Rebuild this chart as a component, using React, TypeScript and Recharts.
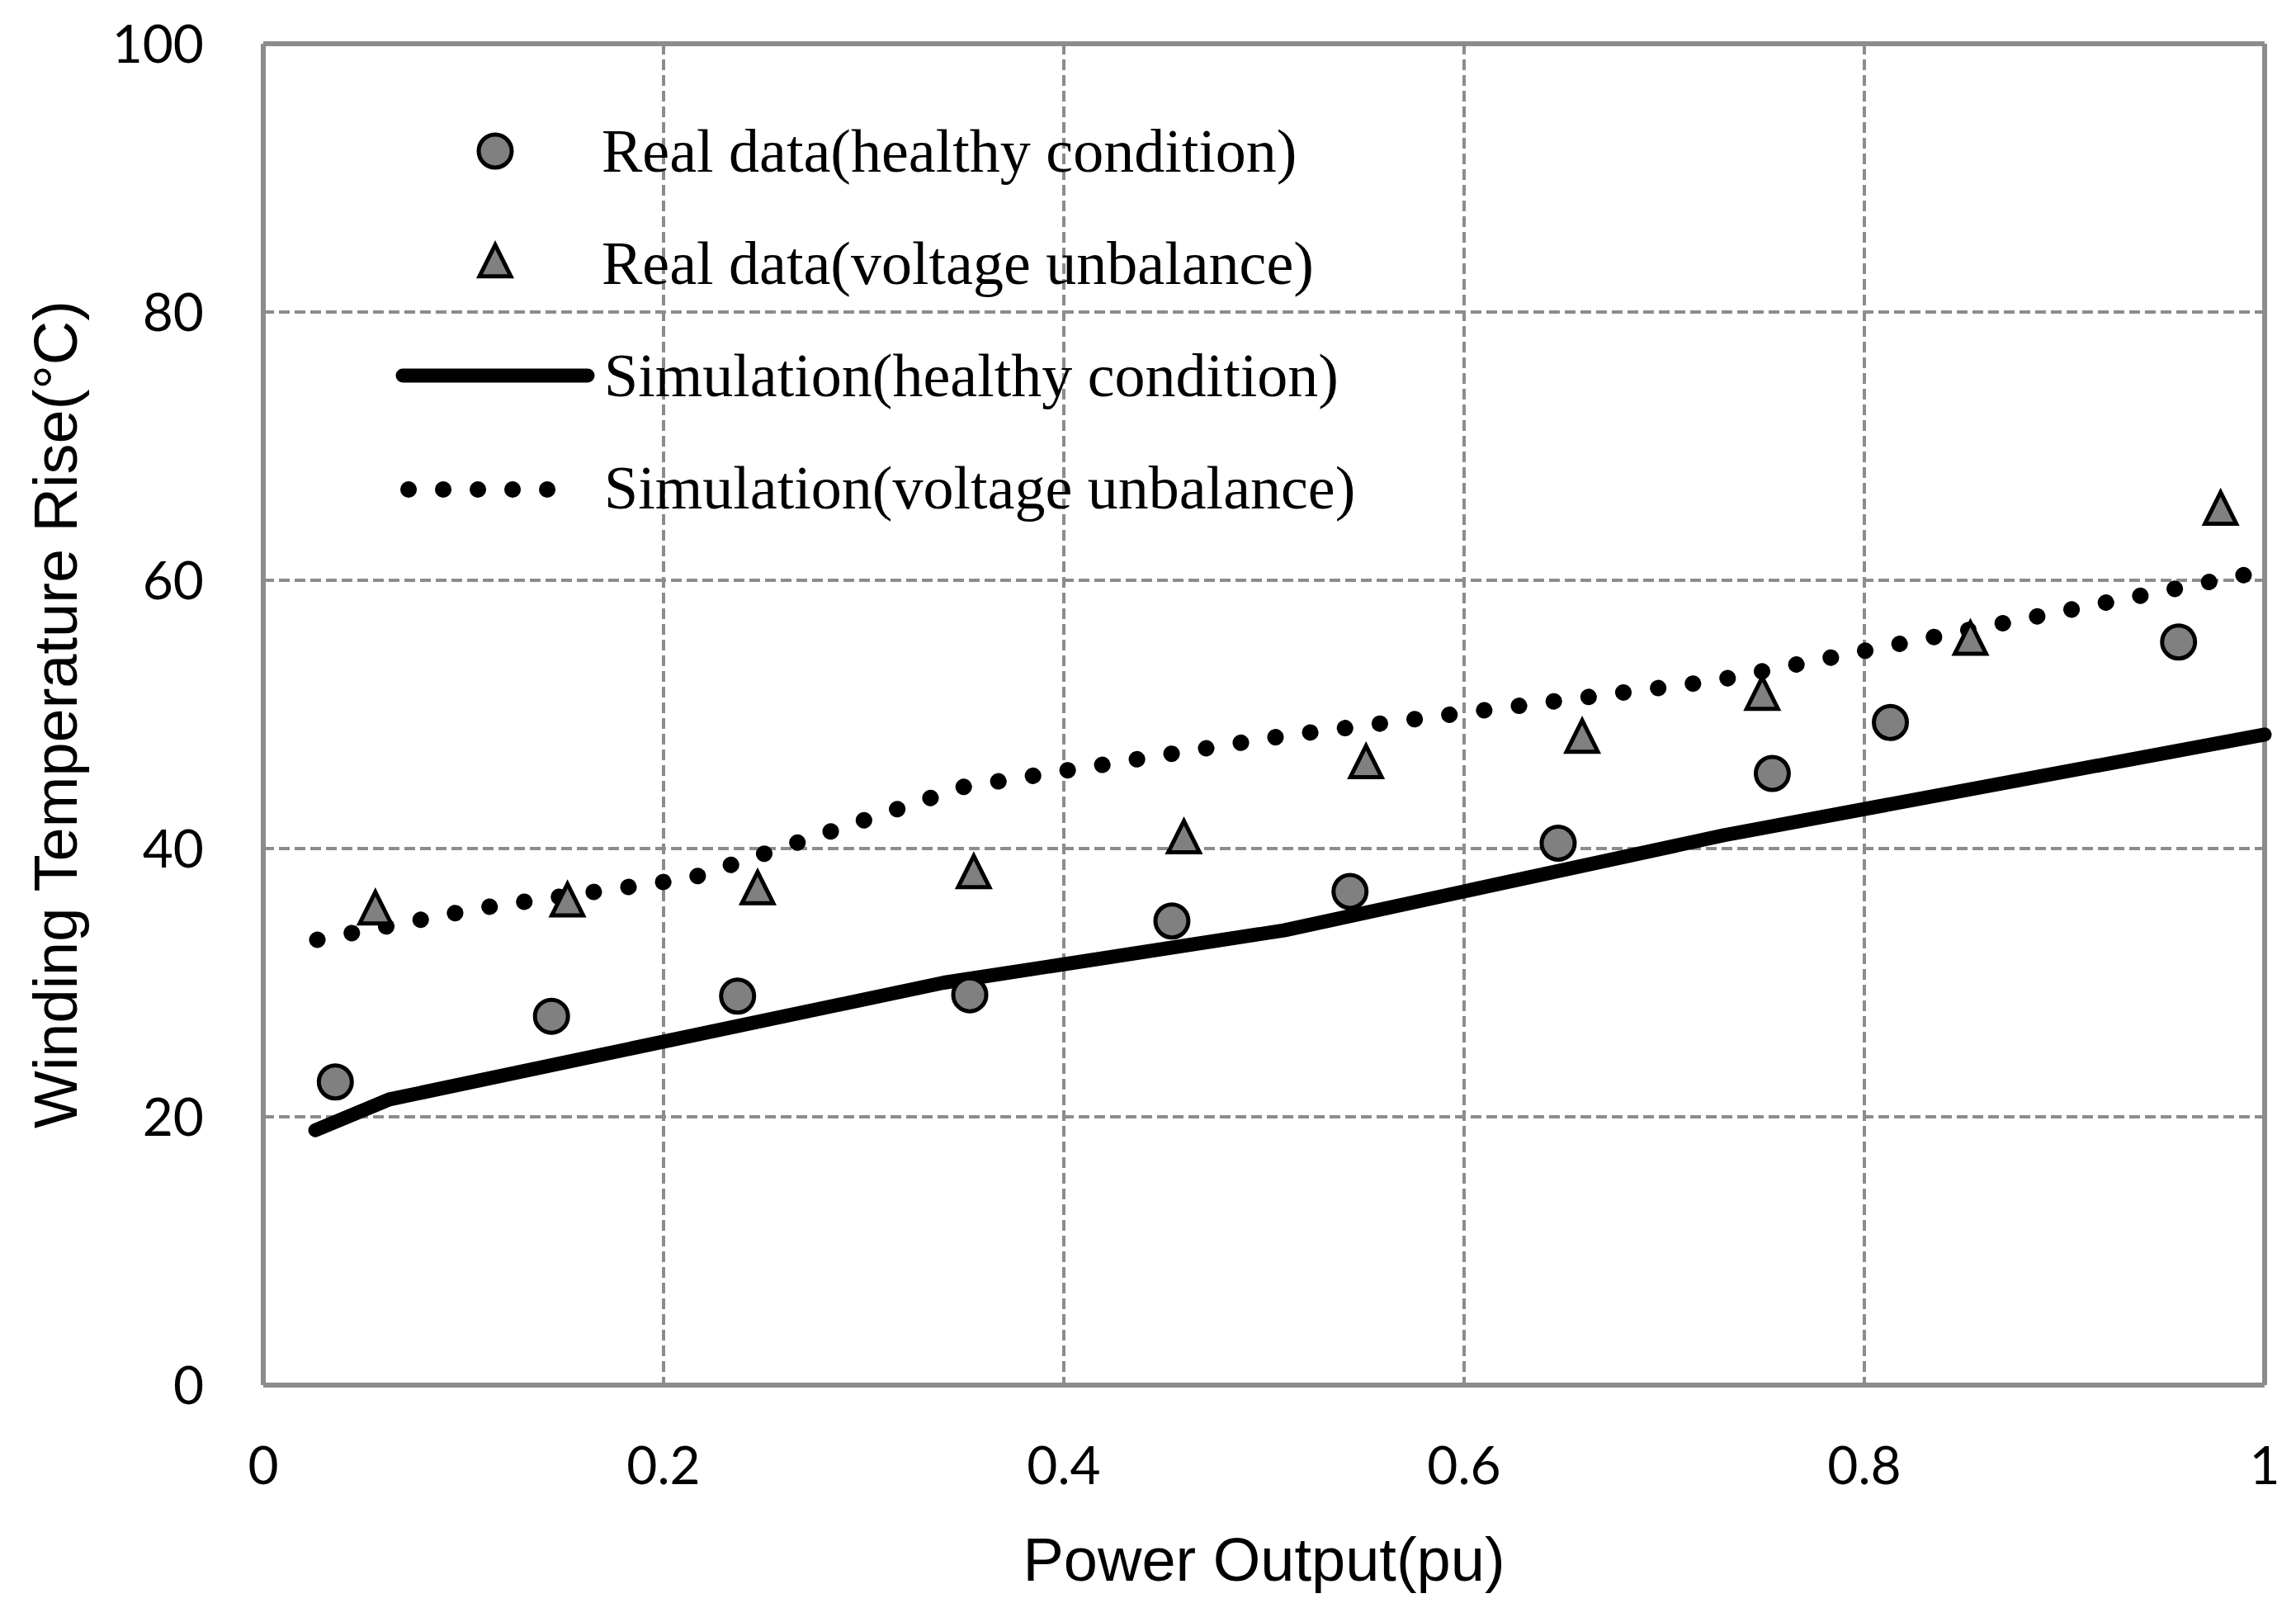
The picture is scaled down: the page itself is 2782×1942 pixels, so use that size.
import React from "react";
import {
  ComposedChart,
  Line,
  Scatter,
  XAxis,
  YAxis,
  CartesianGrid,
  ReferenceLine,
  Legend,
} from "recharts";

// axis ticks
const xTicks = [0, 0.2, 0.4, 0.6, 0.8, 1];
const yTicks = [0, 20, 40, 60, 80, 100];

// series names
const seriesNames = [
  "Real data(healthy condition)",
  "Real data(voltage unbalance)",
  "Simulation(healthy condition)",
  "Simulation(voltage unbalance)",
];

// measured points
const realHealthyX = [0.036, 0.144, 0.237, 0.353, 0.454, 0.543, 0.647, 0.754, 0.813, 0.957];
const realHealthyY = [22.6, 27.5, 29.0, 29.1, 34.6, 36.8, 40.4, 45.6, 49.4, 55.4];
const realUnbalX = [0.056, 0.152, 0.247, 0.355, 0.46, 0.551, 0.659, 0.749, 0.853, 0.978];
const realUnbalY = [35.2, 35.8, 36.7, 37.9, 40.5, 46.1, 48.0, 51.2, 55.3, 65.0];

// simulation curves
const simHealthyX = [0.026, 0.063, 0.34, 0.51, 0.73, 1.0];
const simHealthyY = [19.0, 21.3, 30.0, 33.9, 41.0, 48.5];
const simUnbalX = [0.027, 0.11, 0.214, 0.35, 0.51, 0.725, 1.0];
const simUnbalY = [33.2, 35.6, 37.8, 44.6, 48.4, 52.5, 60.7];

const zip = (xs: number[], ys: number[]) => xs.map((x, i) => ({ x, y: ys[i] }));

const realHealthy = zip(realHealthyX, realHealthyY);
const realUnbal = zip(realUnbalX, realUnbalY);
const simHealthy = zip(simHealthyX, simHealthyY);
const simUnbal = zip(simUnbalX, simUnbalY);

const GRAY = "#8c8c8c";
const FILL = "#808080";
const TICK_FONT = "Lato, 'Open Sans', sans-serif";
const TITLE_FONT = "'Liberation Sans', Arial, sans-serif";
const LEGEND_FONT = "'Liberation Serif', 'Times New Roman', serif";

const CircleMark = (props: any) => (
  <circle cx={props.cx} cy={props.cy} r={20} fill={FILL} stroke="#000" strokeWidth={5} />
);

const triPoints = (cx: number, cy: number) => {
  const h = 38;
  const w = 38;
  return `${cx},${cy - (2 * h) / 3} ${cx - w / 2},${cy + h / 3} ${cx + w / 2},${cy + h / 3}`;
};

const TriangleMark = (props: any) => (
  <polygon points={triPoints(props.cx, props.cy)} fill={FILL} stroke="#000" strokeWidth={5} />
);

const XTick = (props: any) => (
  <text x={props.x} y={props.y + 120} textAnchor="middle" fontFamily={TICK_FONT} fontSize={64} fill="#000">
    {props.payload.value}
  </text>
);

const YTick = (props: any) => (
  <text x={props.x - 72} y={props.y + 23} textAnchor="end" fontFamily={TICK_FONT} fontSize={64} fill="#000">
    {props.payload.value}
  </text>
);

const XTitle = (props: any) => {
  const vb = props.viewBox;
  return (
    <text x={vb.x + vb.width / 2} y={1915} textAnchor="middle" fontFamily={TITLE_FONT} fontSize={74} fill="#000">
      Power Output(pu)
    </text>
  );
};

const YTitle = (props: any) => {
  const vb = props.viewBox;
  const cy = vb.y + vb.height / 2;
  return (
    <text
      x={93}
      y={cy}
      transform={`rotate(-90, 93, ${cy})`}
      textAnchor="middle"
      fontFamily={TITLE_FONT}
      fontSize={74}
      fill="#000"
    >
      Winding Temperature Rise(°C)
    </text>
  );
};

const LegendBox = () => {
  const sx = 140;
  const rows = [43, 182, 315, 453];
  const base = [68, 204, 340, 476];
  return (
    <svg width={800} height={520} style={{ overflow: "visible" }}>
      <circle cx={sx} cy={rows[0]} r={20} fill={FILL} stroke="#000" strokeWidth={5} />
      <polygon points={triPoints(sx, rows[1])} fill={FILL} stroke="#000" strokeWidth={5} />
      <line x1={28} y1={rows[2]} x2={252} y2={rows[2]} stroke="#000" strokeWidth={17} strokeLinecap="round" />
      <line
        x1={35}
        y1={rows[3]}
        x2={205}
        y2={rows[3]}
        stroke="#000"
        strokeWidth={20}
        strokeLinecap="round"
        strokeDasharray="0.1 41.9"
      />
      {seriesNames.map((name, i) => (
        <text key={name} x={i < 2 ? 269 : 272} y={base[i]} fontFamily={LEGEND_FONT} fontSize={74} fill="#000">
          {name}
        </text>
      ))}
    </svg>
  );
};

export default function App() {
  return (
    <div style={{ position: "absolute", left: 0, top: 0, width: 2782, height: 1942, background: "#fff" }}>
      <ComposedChart
        width={2782}
        height={1942}
        margin={{ top: 53, right: 38, bottom: 114, left: 119 }}
      >
        <CartesianGrid stroke={GRAY} strokeWidth={4} strokeDasharray="13 6" verticalValues={xTicks} horizontalValues={yTicks} />
        <XAxis
          type="number"
          dataKey="x"
          domain={[0, 1]}
          ticks={xTicks}
          height={150}
          tickLine={false}
          tickSize={0}
          tickMargin={0}
          axisLine={{ stroke: GRAY, strokeWidth: 6 }}
          tick={<XTick />}
          label={<XTitle />}
        />
        <YAxis
          type="number"
          dataKey="y"
          domain={[0, 100]}
          ticks={yTicks}
          width={200}
          tickLine={false}
          tickSize={0}
          tickMargin={0}
          axisLine={{ stroke: GRAY, strokeWidth: 6 }}
          tick={<YTick />}
          label={<YTitle />}
        />
        <ReferenceLine y={100} stroke={GRAY} strokeWidth={6} />
        <ReferenceLine x={1} stroke={GRAY} strokeWidth={6} />
        <Line
          name={seriesNames[3]}
          data={simUnbal}
          dataKey="y"
          type="linear"
          stroke="#000"
          strokeWidth={20}
          strokeLinecap="round"
          strokeDasharray="0.1 42.4"
          dot={false}
          activeDot={false}
          isAnimationActive={false}
        />
        <Line
          name={seriesNames[2]}
          data={simHealthy}
          dataKey="y"
          type="linear"
          stroke="#000"
          strokeWidth={17}
          strokeLinecap="round"
          strokeLinejoin="round"
          dot={false}
          activeDot={false}
          isAnimationActive={false}
        />
        <Scatter name={seriesNames[1]} data={realUnbal} dataKey="y" shape={<TriangleMark />} isAnimationActive={false} />
        <Scatter name={seriesNames[0]} data={realHealthy} dataKey="y" shape={<CircleMark />} isAnimationActive={false} />
        <Legend
          layout="vertical"
          align="center"
          verticalAlign="middle"
          wrapperStyle={{ left: 460, top: 140, width: 800, height: 520, position: "absolute" }}
          content={<LegendBox />}
        />
      </ComposedChart>
    </div>
  );
}
